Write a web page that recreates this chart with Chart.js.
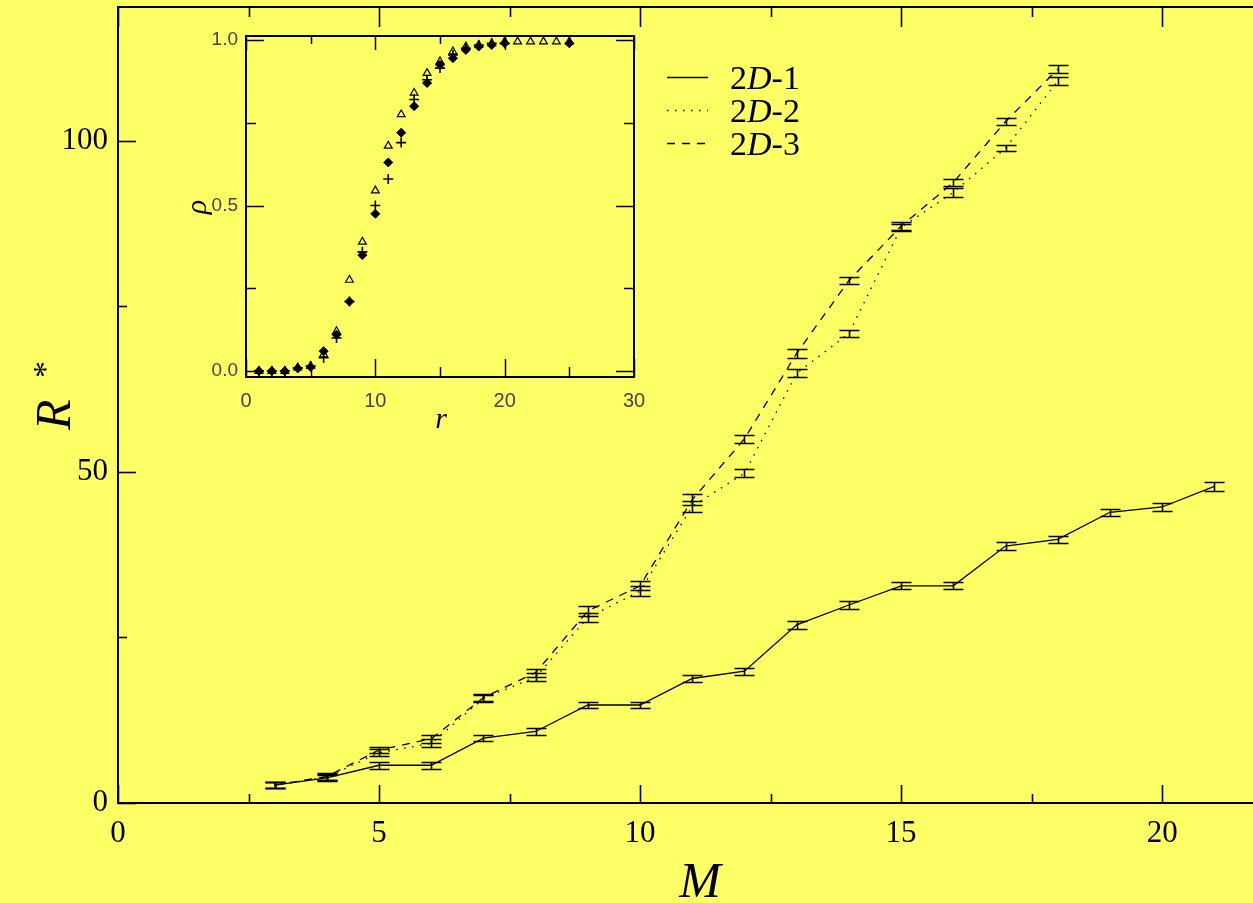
<!DOCTYPE html>
<html>
<head>
<meta charset="utf-8">
<script src="https://cdn.jsdelivr.net/npm/chart.js@4/dist/chart.umd.min.js"></script>
<style>
html, body { margin: 0; padding: 0; background: #ffff66; overflow: hidden; }
#wrap { position: relative; width: 1253px; height: 903px; }
canvas { position: absolute; left: 0; top: 0; }
</style>
</head>
<body>
<div id="wrap">
  <canvas id="main" width="1253" height="903"></canvas>
  <canvas id="inset" width="1253" height="903"></canvas>
</div>
<script>
// main plot: R* against M
const mValues = [3, 4, 5, 6, 7, 8, 9, 10, 11, 12, 13, 14, 15, 16, 17, 18, 19, 20, 21];
const r2D1 = [2.7, 3.8, 5.7, 5.7, 9.8, 10.8, 14.8, 14.8, 18.8, 19.9, 26.9, 29.9, 32.8, 32.8, 38.8, 39.8, 43.9, 44.7, 47.8];
const err2D1 = [0.4, 0.5, 0.5, 0.5, 0.5, 0.5, 0.5, 0.5, 0.5, 0.5, 0.55, 0.55, 0.5, 0.5, 0.65, 0.55, 0.5, 0.55, 0.7];
const mValuesB = [3, 4, 5, 6, 7, 8, 9, 10, 11, 12, 13, 14, 15, 16, 17, 18];
const r2D2 = [2.7, 3.9, 7.6, 9.0, 15.8, 19.0, 28.0, 32.0, 44.8, 49.8, 64.9, 70.9, 86.9, 92.2, 98.9, 109.0];
const err2D2 = [0.4, 0.5, 0.5, 0.6, 0.5, 0.6, 0.7, 0.7, 0.8, 0.6, 0.6, 0.6, 0.6, 0.7, 0.5, 0.6];
const r2D3 = [2.7, 4.0, 8.0, 9.7, 15.9, 19.7, 29.0, 32.8, 45.8, 55.0, 67.9, 78.9, 87.1, 93.7, 102.9, 110.8];
const err2D3 = [0.4, 0.5, 0.5, 0.6, 0.5, 0.6, 0.7, 0.7, 0.8, 0.6, 0.7, 0.6, 0.6, 0.6, 0.5, 0.6];
const seriesNames = ['2D-1', '2D-2', '2D-3'];
const mTicks = [0, 5, 10, 15, 20];
const rStarTicks = [0, 50, 100];

// inset: rho against r
const rValues = [1, 2, 3, 4, 5, 6, 7, 8, 9, 10, 11, 12, 13, 14, 15, 16, 17, 18, 19, 20, 21, 22, 23, 24, 25];
const rhoTriangles = [0.0, 0.0, 0.0, 0.01, 0.015, 0.05, 0.12, 0.275, 0.39, 0.545, 0.68, 0.775, 0.84, 0.9, 0.935, 0.965, 0.98, 0.985, 0.99, 0.995, 0.995, 0.995, 0.995, 0.995, 0.995];
const rhoDiamonds = [0.0, 0.0, 0.0, 0.008, 0.012, 0.06, 0.11, 0.21, 0.35, 0.475, 0.63, 0.72, 0.80, 0.87, 0.925, 0.945, 0.97, 0.98, 0.985, 0.99, null, null, null, null, 0.99];
const rhoCrosses = [0.0, 0.0, 0.0, 0.01, 0.015, 0.04, 0.10, 0.21, 0.36, 0.50, 0.58, 0.69, 0.82, 0.88, 0.915, 0.955, 0.975, 0.985, 0.99, 0.99, null, null, null, null, null];
const rTicks = [0, 10, 20, 30];
const rhoTicks = [0, 0.5, 1];

const SERIF = '"Liberation Serif", "DejaVu Serif", serif';
const SANS = '"Liberation Sans", "DejaVu Sans", sans-serif';

function toPoints(xs, ys) {
    return xs.map((x, i) => ({ x: x, y: ys[i] }));
}

// fixed ticks and no extra label padding, so the plot box stays where it is in the picture
function fixScale(tickValues, size) {
    return {
        afterBuildTicks: s => { s.ticks = tickValues.map(v => ({ value: v })); },
        afterFit: s => {
            if (s.isHorizontal()) s.height = size; else s.width = size;
            s.paddingLeft = 0; s.paddingRight = 0; s.paddingTop = 0; s.paddingBottom = 0;
        }
    };
}

// draws the little I shaped error bars
const errorBars = {
    id: 'errorBars',
    afterDatasetsDraw(chart) {
        const ctx = chart.ctx;
        const yScale = chart.scales.y;
        ctx.save();
        ctx.strokeStyle = '#000';
        ctx.lineWidth = 1.6;
        chart.data.datasets.forEach((ds, i) => {
            if (!ds.errors) return;
            const meta = chart.getDatasetMeta(i);
            meta.data.forEach((pt, j) => {
                const v = ds.data[j].y;
                const e = ds.errors[j];
                const yt = Math.round(yScale.getPixelForValue(v + e)) + 0.5;
                const yb = Math.round(yScale.getPixelForValue(v - e)) + 0.5;
                const x = Math.round(pt.x) + 0.5;
                ctx.beginPath();
                ctx.moveTo(x, yt); ctx.lineTo(x, yb);
                ctx.moveTo(x - 10, yt); ctx.lineTo(x + 10, yt);
                ctx.moveTo(x - 10, yb); ctx.lineTo(x + 10, yb);
                ctx.stroke();
            });
        });
        ctx.restore();
    }
};

function drawTicks(ctx, scale, edge, step, majorEvery, major, minor) {
    const a = scale.chart.chartArea;
    const first = Math.ceil((scale.min - 1e-9) / step);
    for (let k = first; k * step <= scale.max + 1e-9; k++) {
        const v = k * step;
        const p = Math.round(scale.getPixelForValue(v)) + 0.5;
        const isMajor = Math.abs(v / majorEvery - Math.round(v / majorEvery)) < 1e-6;
        const len = isMajor ? major : minor;
        ctx.beginPath();
        if (edge === 'bottom') { ctx.moveTo(p, a.bottom); ctx.lineTo(p, a.bottom - len); }
        if (edge === 'top') { ctx.moveTo(p, a.top); ctx.lineTo(p, a.top + len); }
        if (edge === 'left') { ctx.moveTo(a.left, p); ctx.lineTo(a.left + len, p); }
        if (edge === 'right') { ctx.moveTo(a.right, p); ctx.lineTo(a.right - len, p); }
        ctx.stroke();
    }
}

function drawItalicMix(ctx, parts, x, y, size) {
    parts.forEach(p => {
        ctx.font = (p[1] ? 'italic ' : '') + size + 'px ' + SERIF;
        ctx.fillText(p[0], x, y);
        x += ctx.measureText(p[0]).width;
    });
}

const mainDecor = {
    id: 'mainDecor',
    afterDraw(chart) {
        const ctx = chart.ctx;
        const a = chart.chartArea;
        ctx.save();
        ctx.strokeStyle = '#000';
        ctx.lineWidth = 2;
        ctx.beginPath();
        ctx.moveTo(a.right + 20, a.top); ctx.lineTo(a.left, a.top);
        ctx.lineTo(a.left, a.bottom); ctx.lineTo(a.right + 20, a.bottom);
        ctx.stroke();
        ctx.lineWidth = 1.6;
        drawTicks(ctx, chart.scales.x, 'bottom', 2.5, 5, 18, 9);
        drawTicks(ctx, chart.scales.x, 'top', 2.5, 5, 20, 10);
        drawTicks(ctx, chart.scales.y, 'left', 25, 50, 18, 9);

        // axis titles
        ctx.fillStyle = '#000';
        ctx.textBaseline = 'alphabetic';
        ctx.font = 'italic 50px ' + SERIF;
        ctx.textAlign = 'center';
        ctx.fillText('M', 700, 897);
        ctx.save();
        ctx.translate(70, 410);
        ctx.rotate(-Math.PI / 2);
        ctx.textAlign = 'left';
        ctx.font = 'italic 50px ' + SERIF;
        ctx.fillText('R', -20, 0);
        ctx.font = '34px ' + SERIF;
        ctx.fillText('*', 32, -14);
        ctx.restore();

        // legend
        const dashes = [[], [1.5, 6.5], [8, 7]];
        const rows = [77, 110, 143];
        ctx.textAlign = 'left';
        seriesNames.forEach((name, i) => {
            ctx.lineWidth = 1.5;
            ctx.setLineDash(dashes[i]);
            ctx.beginPath();
            ctx.moveTo(667, rows[i] + 0.5); ctx.lineTo(708, rows[i] + 0.5);
            ctx.stroke();
            ctx.setLineDash([]);
            const bits = name.split('D');
            drawItalicMix(ctx, [[bits[0], false], ['D', true], [bits[1], false]], 730, rows[i] + 12, 34);
        });
        ctx.restore();
    }
};

const insetDecor = {
    id: 'insetDecor',
    afterDraw(chart) {
        const ctx = chart.ctx;
        const a = chart.chartArea;
        ctx.save();
        ctx.strokeStyle = '#000';
        ctx.lineWidth = 2;
        ctx.strokeRect(a.left, a.top, a.right - a.left, a.bottom - a.top);
        ctx.lineWidth = 1.5;
        drawTicks(ctx, chart.scales.x, 'bottom', 5, 10, 18, 10);
        drawTicks(ctx, chart.scales.x, 'top', 5, 10, 14, 8);
        drawTicks(ctx, chart.scales.y, 'left', 0.25, 0.5, 18, 10);
        drawTicks(ctx, chart.scales.y, 'right', 0.25, 0.5, 18, 10);
        ctx.fillStyle = '#000';
        ctx.textAlign = 'center';
        ctx.font = 'italic 30px ' + SERIF;
        ctx.fillText('r', 441, 428);
        ctx.save();
        ctx.translate(206, 207);
        ctx.rotate(-Math.PI / 2);
        ctx.fillText('\u03c1', 0, 0);
        ctx.restore();
        ctx.restore();
    }
};

new Chart(document.getElementById('main'), {
    type: 'line',
    data: {
        datasets: [
            { label: seriesNames[0], data: toPoints(mValues, r2D1), errors: err2D1, borderColor: '#000', borderWidth: 1.3, pointRadius: 0, tension: 0 },
            { label: seriesNames[1], data: toPoints(mValuesB, r2D2), errors: err2D2, borderColor: '#000', borderWidth: 1.3, borderDash: [1.5, 6.5], pointRadius: 0, tension: 0 },
            { label: seriesNames[2], data: toPoints(mValuesB, r2D3), errors: err2D3, borderColor: '#000', borderWidth: 1.3, borderDash: [8, 7], pointRadius: 0, tension: 0 }
        ]
    },
    options: {
        responsive: false,
        animation: false,
        layout: { padding: { left: 0, top: 7, right: 0, bottom: 0 } },
        plugins: { legend: { display: false }, tooltip: { enabled: false } },
        scales: {
            x: Object.assign({
                type: 'linear', min: 0, max: 21.74,
                grid: { display: false, drawTicks: false }, border: { display: false },
                ticks: { autoSkip: false, padding: 12, color: '#000', maxRotation: 0, font: { family: SERIF, size: 31 } }
            }, fixScale(mTicks, 100)),
            y: Object.assign({
                type: 'linear', min: 0, max: 120.2,
                grid: { display: false, drawTicks: false }, border: { display: false },
                ticks: { autoSkip: false, padding: 10, color: '#000', font: { family: SERIF, size: 31 } }
            }, fixScale(rStarTicks, 118))
        }
    },
    plugins: [errorBars, mainDecor]
});

new Chart(document.getElementById('inset'), {
    type: 'scatter',
    data: {
        datasets: [
            { label: 'a', data: toPoints(rValues, rhoTriangles), pointStyle: 'triangle', pointRadius: 4.5, borderColor: '#000', borderWidth: 1.2, backgroundColor: 'rgba(0,0,0,0)' },
            { label: 'b', data: toPoints(rValues, rhoDiamonds), pointStyle: 'rectRot', pointRadius: 4.5, borderColor: '#000', borderWidth: 1, backgroundColor: '#000' },
            { label: 'c', data: toPoints(rValues, rhoCrosses), pointStyle: 'cross', pointRadius: 5, borderColor: '#000', borderWidth: 1.6, backgroundColor: '#000' }
        ]
    },
    options: {
        responsive: false,
        animation: false,
        layout: { padding: { left: 206, top: 36, right: 619, bottom: 486 } },
        plugins: { legend: { display: false }, tooltip: { enabled: false } },
        scales: {
            x: Object.assign({
                type: 'linear', min: 0, max: 30,
                grid: { display: false, drawTicks: false }, border: { display: false },
                ticks: { autoSkip: false, padding: 12, color: '#444', maxRotation: 0, font: { family: SANS, size: 20 } }
            }, fixScale(rTicks, 40)),
            y: Object.assign({
                type: 'linear', min: -0.018, max: 1.012,
                grid: { display: false, drawTicks: false }, border: { display: false },
                ticks: { autoSkip: false, padding: 8, color: '#444', font: { family: SANS, size: 19 }, callback: v => v.toFixed(1) }
            }, fixScale(rhoTicks, 40))
        }
    },
    plugins: [insetDecor]
});
</script>
</body>
</html>
